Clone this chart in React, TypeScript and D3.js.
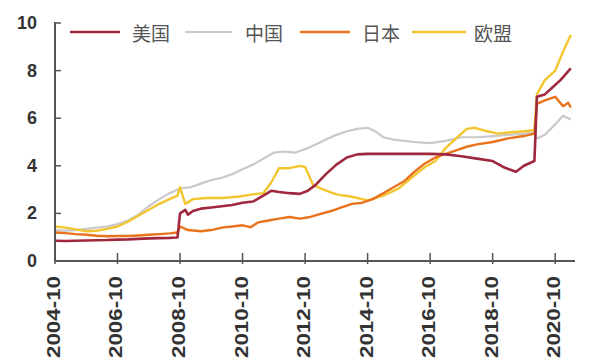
import React from "react";
import * as d3 from "d3";

type Pt = [string, number];

// Monthly-ish readings, index level (0–10)
const usSeries: Pt[] = [
  ["2004-10", 0.85], ["2005-02", 0.84], ["2005-06", 0.85], ["2005-10", 0.86], ["2006-02", 0.87],
  ["2006-06", 0.88], ["2006-10", 0.9], ["2007-02", 0.91], ["2007-06", 0.93], ["2007-10", 0.95],
  ["2008-02", 0.96], ["2008-06", 0.97], ["2008-09", 0.99], ["2008-10", 2.0], ["2008-12", 2.15],
  ["2009-01", 1.95], ["2009-03", 2.1], ["2009-06", 2.2], ["2009-10", 2.25], ["2010-02", 2.3],
  ["2010-06", 2.35], ["2010-10", 2.45], ["2011-02", 2.5], ["2011-06", 2.75], ["2011-09", 2.95],
  ["2011-12", 2.9], ["2012-04", 2.85], ["2012-08", 2.82], ["2012-11", 2.95], ["2013-02", 3.2],
  ["2013-06", 3.65], ["2013-10", 4.05], ["2014-02", 4.35], ["2014-06", 4.48], ["2014-10", 4.5],
  ["2015-06", 4.5], ["2016-02", 4.5], ["2016-10", 4.5], ["2017-04", 4.48], ["2017-10", 4.4],
  ["2018-04", 4.3], ["2018-10", 4.2], ["2019-02", 3.95], ["2019-07", 3.75], ["2019-10", 4.0],
  ["2020-02", 4.2], ["2020-03", 6.9], ["2020-06", 7.0], ["2020-09", 7.3], ["2020-12", 7.6],
  ["2021-02", 7.85], ["2021-04", 8.1],
];

const cnSeries: Pt[] = [
  ["2004-10", 1.3], ["2005-02", 1.28], ["2005-06", 1.3], ["2005-10", 1.35], ["2006-02", 1.4],
  ["2006-06", 1.45], ["2006-10", 1.55], ["2007-02", 1.7], ["2007-06", 1.95], ["2007-10", 2.3],
  ["2008-02", 2.6], ["2008-06", 2.85], ["2008-10", 3.05], ["2009-02", 3.1], ["2009-06", 3.25],
  ["2009-10", 3.4], ["2010-02", 3.5], ["2010-06", 3.65], ["2010-10", 3.85], ["2011-02", 4.05],
  ["2011-06", 4.3], ["2011-10", 4.55], ["2012-02", 4.6], ["2012-06", 4.55], ["2012-10", 4.7],
  ["2013-02", 4.9], ["2013-06", 5.1], ["2013-10", 5.3], ["2014-02", 5.45], ["2014-06", 5.55],
  ["2014-10", 5.6], ["2015-01", 5.45], ["2015-04", 5.2], ["2015-08", 5.1], ["2015-12", 5.05],
  ["2016-04", 5.0], ["2016-10", 4.95], ["2017-04", 5.05], ["2017-10", 5.2], ["2018-04", 5.2],
  ["2018-10", 5.25], ["2019-04", 5.3], ["2019-10", 5.35], ["2020-02", 5.4], ["2020-03", 5.15],
  ["2020-06", 5.3], ["2020-10", 5.75], ["2021-01", 6.1], ["2021-03", 6.0], ["2021-04", 5.95],
];

const jpSeries: Pt[] = [
  ["2004-10", 1.2], ["2005-02", 1.17], ["2005-06", 1.13], ["2005-10", 1.1], ["2006-02", 1.06],
  ["2006-06", 1.04], ["2006-10", 1.05], ["2007-02", 1.05], ["2007-06", 1.07], ["2007-10", 1.1],
  ["2008-02", 1.13], ["2008-06", 1.16], ["2008-09", 1.2], ["2008-10", 1.45], ["2009-01", 1.3],
  ["2009-06", 1.25], ["2009-10", 1.3], ["2010-02", 1.4], ["2010-06", 1.45], ["2010-10", 1.5],
  ["2011-01", 1.42], ["2011-04", 1.62], ["2011-08", 1.7], ["2011-12", 1.78], ["2012-04", 1.85],
  ["2012-08", 1.78], ["2012-12", 1.85], ["2013-04", 1.98], ["2013-08", 2.1], ["2013-12", 2.25],
  ["2014-04", 2.4], ["2014-08", 2.45], ["2014-12", 2.6], ["2015-04", 2.85], ["2015-08", 3.1],
  ["2015-12", 3.35], ["2016-04", 3.75], ["2016-08", 4.1], ["2016-12", 4.35], ["2017-04", 4.5],
  ["2017-08", 4.65], ["2017-12", 4.8], ["2018-04", 4.9], ["2018-10", 5.0], ["2019-04", 5.15],
  ["2019-10", 5.25], ["2020-02", 5.35], ["2020-03", 6.6], ["2020-06", 6.75], ["2020-10", 6.9],
  ["2021-01", 6.5], ["2021-03", 6.65], ["2021-04", 6.45],
];

const euSeries: Pt[] = [
  ["2004-10", 1.45], ["2005-02", 1.4], ["2005-06", 1.33], ["2005-10", 1.25], ["2006-02", 1.27],
  ["2006-06", 1.35], ["2006-10", 1.45], ["2007-02", 1.65], ["2007-06", 1.9], ["2007-10", 2.15],
  ["2008-02", 2.4], ["2008-06", 2.6], ["2008-09", 2.75], ["2008-10", 3.1], ["2008-12", 2.4],
  ["2009-03", 2.6], ["2009-08", 2.65], ["2010-02", 2.65], ["2010-08", 2.7], ["2011-02", 2.8],
  ["2011-06", 2.85], ["2011-09", 3.3], ["2011-12", 3.9], ["2012-04", 3.9], ["2012-08", 4.0],
  ["2012-10", 3.95], ["2013-01", 3.2], ["2013-05", 3.0], ["2013-10", 2.8], ["2014-04", 2.7],
  ["2014-10", 2.55], ["2015-04", 2.75], ["2015-10", 3.05], ["2016-04", 3.6], ["2016-08", 3.95],
  ["2016-12", 4.2], ["2017-04", 4.75], ["2017-08", 5.15], ["2017-12", 5.55], ["2018-03", 5.6],
  ["2018-08", 5.45], ["2018-12", 5.35], ["2019-04", 5.4], ["2019-10", 5.45], ["2020-02", 5.5],
  ["2020-03", 7.0], ["2020-06", 7.6], ["2020-10", 8.0], ["2021-01", 8.8], ["2021-04", 9.5],
];

const seriesNames = ["美国", "中国", "日本", "欧盟"];
const seriesColors = ["#a0283e", "#c9c9c9", "#e8731c", "#f3c630"];
const seriesWidths = [2.6, 2.2, 2.4, 2.4];
const seriesData = [usSeries, cnSeries, jpSeries, euSeries];
const drawOrder = [1, 3, 2, 0];

const yTicks = [0, 2, 4, 6, 8, 10];
const xTickLabels = [
  "2004-10", "2006-10", "2008-10", "2010-10", "2012-10",
  "2014-10", "2016-10", "2018-10", "2020-10",
];

const parse = d3.timeParse("%Y-%m");

export default function App() {
  const width = 602;
  const height = 361;
  const left = 55;
  const right = 575;
  const top = 23;
  const bottom = 261;

  const x = d3
    .scaleTime()
    .domain([new Date(2004, 9, 1), new Date(2021, 4, 20)])
    .range([left, right]);
  const y = d3.scaleLinear().domain([0, 10]).range([bottom, top]);

  const line = d3
    .line<Pt>()
    .x((d) => x(parse(d[0]) as Date))
    .y((d) => y(d[1]));

  const legendItems = [
    { x1: 70, x2: 120, tx: 132 },
    { x1: 185, x2: 232, tx: 245 },
    { x1: 300, x2: 350, tx: 362 },
    { x1: 412, x2: 466, tx: 474 },
  ];

  return (
    <svg
      width={width}
      height={height}
      style={{ position: "absolute", left: 0, top: 0, background: "#fff" }}
    >
      {drawOrder.map((i) => (
        <path
          key={seriesNames[i]}
          d={line(seriesData[i]) ?? ""}
          fill="none"
          stroke={seriesColors[i]}
          strokeWidth={seriesWidths[i]}
          strokeLinejoin="round"
        />
      ))}

      {/* axes */}
      <line x1={left} x2={left} y1={top - 1} y2={bottom} stroke="#555" strokeWidth={2} />
      <line x1={left} x2={right} y1={bottom} y2={bottom} stroke="#555" strokeWidth={2} />

      {yTicks.map((t) => (
        <g key={t}>
          <line x1={left} x2={left + 6} y1={y(t)} y2={y(t)} stroke="#555" strokeWidth={1.5} />
          <text
            x={37}
            y={y(t)}
            textAnchor="end"
            dominantBaseline="central"
            fontFamily="'Liberation Sans', Arial, sans-serif"
            fontWeight="bold"
            fontSize={18}
            fill="#333"
          >
            {t}
          </text>
        </g>
      ))}

      {xTickLabels.map((lab) => {
        const xp = x(parse(lab) as Date);
        return (
          <g key={lab}>
            <line x1={xp} x2={xp} y1={bottom - 8} y2={bottom + 3} stroke="#555" strokeWidth={1.5} />
            <text
              transform={`translate(${xp - 1},${276}) rotate(-90)`}
              textAnchor="end"
              dominantBaseline="central"
              fontFamily="'Liberation Sans', Arial, sans-serif"
              fontWeight="bold"
              fontSize={18}
              fill="#333"
              textLength={82}
              lengthAdjust="spacingAndGlyphs"
            >
              {lab}
            </text>
          </g>
        );
      })}

      {/* legend */}
      {legendItems.map((it, i) => (
        <g key={seriesNames[i]}>
          <line
            x1={it.x1}
            x2={it.x2}
            y1={32}
            y2={32}
            stroke={seriesColors[i]}
            strokeWidth={seriesWidths[i]}
          />
          <text
            x={it.tx}
            y={32}
            dominantBaseline="central"
            fontFamily="'Noto Sans CJK SC', sans-serif"
            fontSize={19}
            fill="#555"
          >
            {seriesNames[i]}
          </text>
        </g>
      ))}
    </svg>
  );
}
